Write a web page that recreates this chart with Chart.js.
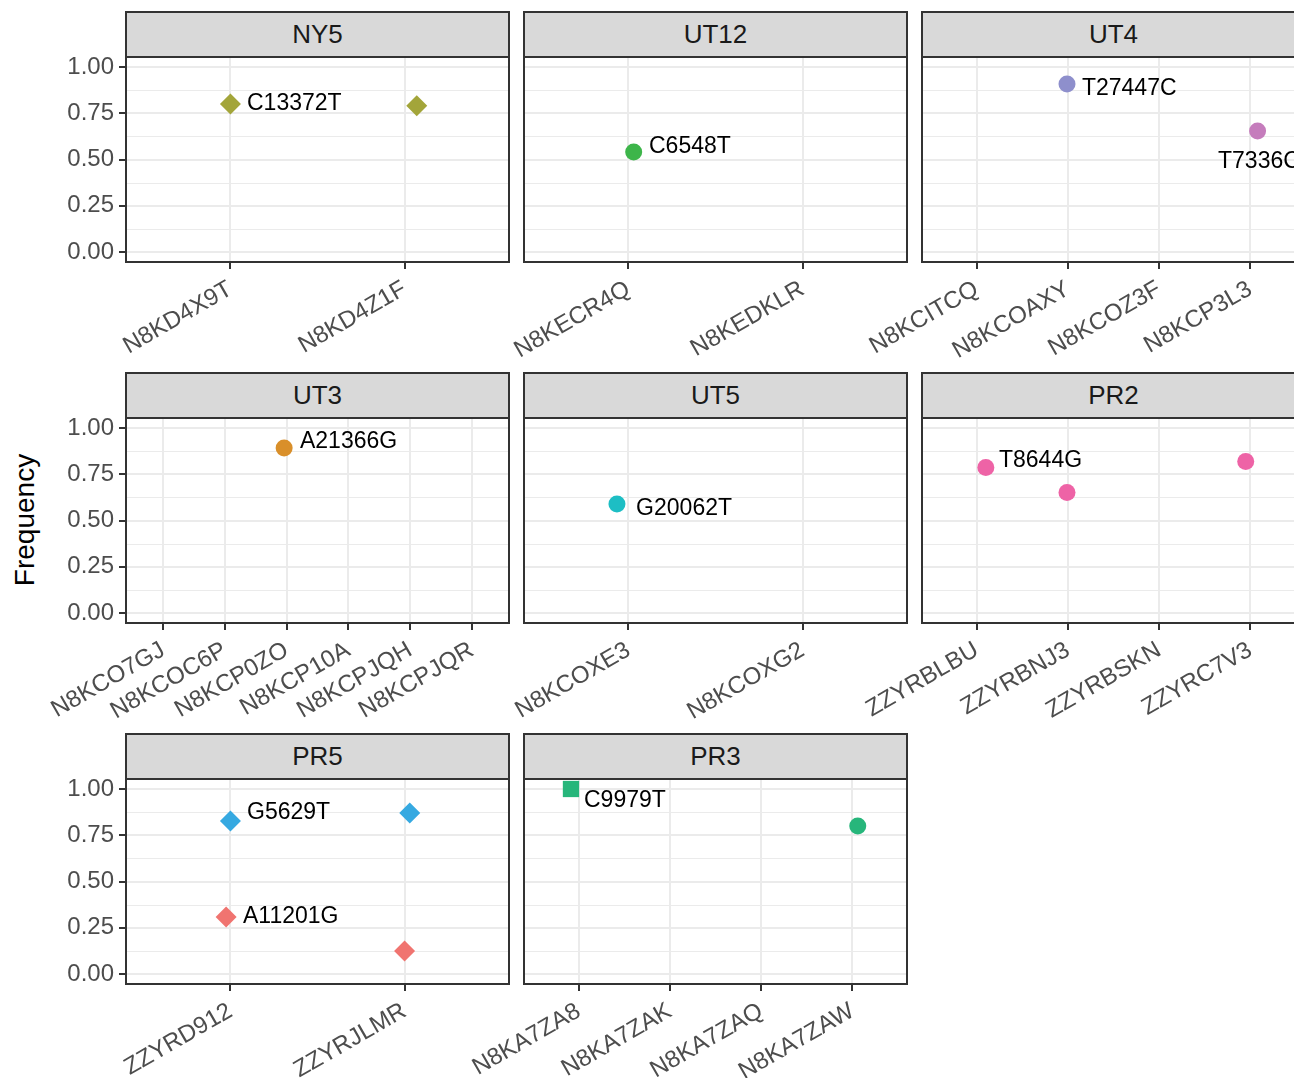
<!DOCTYPE html>
<html>
<head>
<meta charset="utf-8">
<script src="https://cdn.jsdelivr.net/npm/chart.js@4.4.1/dist/chart.umd.min.js"></script>
<style>
  body { margin: 0; width: 1294px; height: 1078px; overflow: hidden; background: #fff; position: relative; font-family: "Liberation Sans", Arial, sans-serif; }
  .strip { position: absolute; height: 47px; background: #d9d9d9; border: 2px solid #333; box-sizing: border-box; text-align: center; font-size: 26px; line-height: 43px; color: #1a1a1a; }
  canvas { position: absolute; }
  #ytitle { position: absolute; left: 25px; top: 520px; transform: translate(-50%, -50%) rotate(-90deg); font-size: 28px; color: #000; white-space: nowrap; }
</style>
</head>
<body>
<div id="ytitle">Frequency</div>
<script>
// facets, in drawing order (row by row)
const facets = ['NY5', 'UT12', 'UT4', 'UT3', 'UT5', 'PR2', 'PR5', 'PR3'];

// samples on the x axis of each facet
const samplesNY5 = ['N8KD4X9T', 'N8KD4Z1F'];
const samplesUT12 = ['N8KECR4Q', 'N8KEDKLR'];
const samplesUT4 = ['N8KCITCQ', 'N8KCOAXY', 'N8KCOZ3F', 'N8KCP3L3'];
const samplesUT3 = ['N8KCO7GJ', 'N8KCOC6P', 'N8KCP0ZO', 'N8KCP10A', 'N8KCPJQH', 'N8KCPJQR'];
const samplesUT5 = ['N8KCOXE3', 'N8KCOXG2'];
const samplesPR2 = ['ZZYRBLBU', 'ZZYRBNJ3', 'ZZYRBSKN', 'ZZYRC7V3'];
const samplesPR5 = ['ZZYRD912', 'ZZYRJLMR'];
const samplesPR3 = ['N8KA7ZA8', 'N8KA7ZAK', 'N8KA7ZAQ', 'N8KA7ZAW'];
const samples = [samplesNY5, samplesUT12, samplesUT4, samplesUT3, samplesUT5, samplesPR2, samplesPR5, samplesPR3];

// mutations (one series each) and the facet they belong to
const mutations = ['C13372T', 'C6548T', 'T27447C', 'T7336C', 'A21366G', 'G20062T', 'T8644G', 'G5629T', 'A11201G', 'C9979T'];
const mutFacet  = ['NY5', 'UT12', 'UT4', 'UT4', 'UT3', 'UT5', 'PR2', 'PR5', 'PR5', 'PR3'];

// sample position (1 = first sample, with jitter) and frequency
const xC13372T = [1.00, 2.07];        const yC13372T = [0.80, 0.79];
const xC6548T  = [1.03];              const yC6548T  = [0.54];
const xT27447C = [1.99];              const yT27447C = [0.908];
const xT7336C  = [4.08];              const yT7336C  = [0.654];
const xA21366G = [2.96];              const yA21366G = [0.892];
const xG20062T = [0.934];             const yG20062T = [0.589];
const xT8644G  = [1.10, 1.99, 3.95];  const yT8644G  = [0.786, 0.651, 0.819];
const xG5629T  = [1.00, 2.03];        const yG5629T  = [0.827, 0.870];
const xA11201G = [0.975, 2.00];       const yA11201G = [0.308, 0.124];
const xC9979T  = [0.915, 4.06];       const yC9979T  = [1.00, 0.80];
const xs = [xC13372T, xC6548T, xT27447C, xT7336C, xA21366G, xG20062T, xT8644G, xG5629T, xA11201G, xC9979T];
const ys = [yC13372T, yC6548T, yT27447C, yT7336C, yA21366G, yG20062T, yT8644G, yG5629T, yA11201G, yC9979T];

// where each mutation's text label sits (data units)
const labelX = [1.095, 1.118, 2.154, 3.646, 3.216, 1.044, 1.244, 1.095, 1.072, 1.058];
const labelY = [0.803, 0.568, 0.881, 0.486, 0.924, 0.562, 0.822, 0.870, 0.308, 0.935];

const yTicks = [0, 0.25, 0.5, 0.75, 1];
const yMinor = [0.125, 0.375, 0.625, 0.875];

// styles
const mutColors = ['#a3a53a', '#3db54a', '#8e8fcc', '#c57cbc', '#d98f2a', '#1dbec4', '#ee63a6', '#36a9e1', '#f07470', '#27b67b'];
const mutShapes = ['rectRot', 'circle', 'circle', 'circle', 'circle', 'circle', 'circle', 'rectRot', 'rectRot', ['rect', 'circle']];
const mutRadius = [10.5, 8.5, 8.5, 8.5, 8.5, 8.5, 8.5, 10.5, 10.5, [11.5, 8.5]];

const colLeft = [126, 524, 922];
const rowTop = [57, 418, 779];
const PW = 383, PH = 205, AXW = 130, AXH = 130, PADR = 40;

Chart.defaults.font.family = '"Liberation Sans", Arial, sans-serif';

// panel border, minor grid and point labels
const panelPlugin = {
    id: 'panel',
    beforeDatasetsDraw(chart) {
        const ctx = chart.ctx, a = chart.chartArea, y = chart.scales.y;
        ctx.save();
        ctx.strokeStyle = '#ebebeb';
        ctx.lineWidth = 1;
        yMinor.forEach(v => {
            const p = Math.round(y.getPixelForValue(v)) + 0.5;
            ctx.beginPath(); ctx.moveTo(a.left, p); ctx.lineTo(a.right, p); ctx.stroke();
        });
        ctx.restore();
    },
    afterDatasetsDraw(chart) {
        const ctx = chart.ctx, a = chart.chartArea;
        const xS = chart.scales.x, yS = chart.scales.y;
        ctx.save();
        ctx.font = '23px "Liberation Sans", Arial, sans-serif';
        ctx.fillStyle = '#000';
        ctx.textAlign = 'left';
        ctx.textBaseline = 'middle';
        chart.data.datasets.forEach(ds => {
            ctx.fillText(ds.label, xS.getPixelForValue(ds.labelAt[0]), yS.getPixelForValue(ds.labelAt[1]));
        });
        ctx.strokeStyle = '#333';
        ctx.lineWidth = 2;
        ctx.strokeRect(a.left, a.top, a.right - a.left, a.bottom - a.top);
        ctx.restore();
    }
};

facets.forEach((f, k) => {
    const col = k % 3, row = Math.floor(k / 3);
    const L = colLeft[col], T = rowTop[row];
    const cats = samples[k];
    const firstCol = col === 0;

    const strip = document.createElement('div');
    strip.className = 'strip';
    strip.style.left = (L - 1) + 'px';
    strip.style.top = (T - 46) + 'px';
    strip.style.width = (PW + 2) + 'px';
    strip.textContent = f;
    document.body.appendChild(strip);

    const cv = document.createElement('canvas');
    cv.width = AXW + PW + PADR;
    cv.height = PH + AXH;
    cv.style.left = (L - AXW) + 'px';
    cv.style.top = T + 'px';
    document.body.appendChild(cv);

    const datasets = [];
    mutations.forEach((m, i) => {
        if (mutFacet[i] !== f) return;
        datasets.push({
            label: m,
            labelAt: [labelX[i], labelY[i]],
            data: xs[i].map((x, j) => ({ x: x, y: ys[i][j] })),
            backgroundColor: mutColors[i],
            borderWidth: 0,
            pointStyle: mutShapes[i],
            pointRadius: mutRadius[i]
        });
    });

    new Chart(cv.getContext('2d'), {
        type: 'scatter',
        data: { datasets: datasets },
        options: {
            responsive: false,
            animation: false,
            events: [],
            layout: { padding: { left: 0, right: PADR, top: 0, bottom: 0 }, autoPadding: false },
            plugins: { legend: { display: false }, tooltip: { enabled: false } },
            scales: {
                x: {
                    type: 'linear',
                    min: 0.4,
                    max: cats.length + 0.6,
                    afterBuildTicks: s => { s.ticks = cats.map((c, i) => ({ value: i + 1 })); },
                    afterFit: s => { s.height = AXH; s.paddingLeft = 0; s.paddingRight = 0; },
                    ticks: {
                        callback: v => cats[Math.round(v) - 1],
                        minRotation: 30, maxRotation: 30, autoSkip: false,
                        color: '#4d4d4d', font: { size: 24 }, padding: 6
                    },
                    grid: { color: '#ebebeb', lineWidth: 2, tickColor: '#333', tickLength: 7, tickWidth: 2 },
                    border: { display: false }
                },
                y: {
                    min: -0.054,
                    max: 1.054,
                    afterBuildTicks: s => { s.ticks = yTicks.map(v => ({ value: v })); },
                    afterFit: s => { s.width = AXW; s.paddingTop = 0; s.paddingBottom = 0; },
                    ticks: {
                        display: firstCol,
                        callback: v => v.toFixed(2),
                        color: '#4d4d4d', font: { size: 24 }, padding: 5
                    },
                    grid: { color: '#ebebeb', lineWidth: 2, tickColor: '#333', tickLength: 7, tickWidth: 2, drawTicks: firstCol },
                    border: { display: false }
                }
            }
        },
        plugins: [panelPlugin]
    });
});
</script>
</body>
</html>
